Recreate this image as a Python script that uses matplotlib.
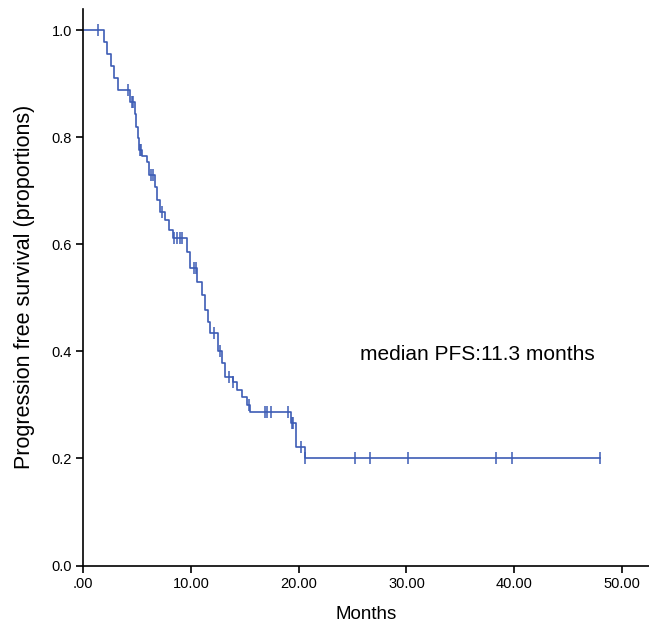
import matplotlib
matplotlib.use("Agg")
import matplotlib.pyplot as plt
import numpy as np

plt.rcParams['font.family'] = ['Liberation Sans', 'DejaVu Sans']

# Step (event) times in months and survival level after each step
event_times = [1.9, 2.2, 2.55, 2.9, 3.25, 4.35, 4.8, 4.95, 5.05, 5.15, 5.5, 5.9, 6.1,
               6.7, 6.9, 7.1, 7.6, 8.0, 8.3, 9.6, 9.9, 10.6, 11.0, 11.3, 11.6, 11.8,
               12.5, 12.9, 13.2, 13.9, 14.3, 14.7, 15.2, 15.5, 19.3, 19.75, 20.6]
surv_levels = [0.978, 0.956, 0.933, 0.911, 0.889, 0.866, 0.843, 0.820, 0.798, 0.776,
               0.765, 0.753, 0.730, 0.707, 0.683, 0.660, 0.645, 0.627, 0.612, 0.585,
               0.556, 0.530, 0.505, 0.478, 0.455, 0.435, 0.400, 0.378, 0.353, 0.343,
               0.328, 0.314, 0.300, 0.286, 0.267, 0.222, 0.200]
# Censored observations (months)
censor_times = [1.4, 4.2, 4.5, 4.65, 5.25, 5.4, 6.3, 6.45, 7.3, 8.45, 8.75, 8.95, 9.15,
                10.25, 10.45, 12.1, 12.7, 13.5, 13.95, 15.35, 16.9, 17.1, 17.4, 19.0,
                19.35, 19.5, 20.2, 20.6, 25.2, 26.6, 30.1, 38.3, 39.8, 48.0]

x_ticks = [0, 10, 20, 30, 40, 50]
x_ticklabels = ['.00', '10.00', '20.00', '30.00', '40.00', '50.00']
y_ticks = [0.0, 0.2, 0.4, 0.6, 0.8, 1.0]
y_ticklabels = ['0.0', '0.2', '0.4', '0.6', '0.8', '1.0']

color = '#3d5cb5'

fig = plt.figure(figsize=(6.49, 6.28), dpi=100)
ax = fig.add_axes([0.128, 0.0995, 0.872, 0.8865])

t = np.concatenate([[0.0], event_times, [max(censor_times)]])
s = np.concatenate([[1.0], surv_levels, [surv_levels[-1]]])
ax.step(t, s, where='post', color=color, lw=1.2)

ct = np.array(censor_times)
idx = np.searchsorted(np.array(event_times), ct, side='right')
levels = np.concatenate([[1.0], surv_levels])
cs = levels[idx]
ax.plot(ct, cs, linestyle='none', marker='|', markersize=9, mew=1.1, color=color)

ax.set_xlim(0, 52.5)
ax.set_ylim(0, 1.04)
ax.set_xticks(x_ticks)
ax.set_xticklabels(x_ticklabels)
ax.set_yticks(y_ticks)
ax.set_yticklabels(y_ticklabels)
for sp in ['top', 'right']:
    ax.spines[sp].set_visible(False)
for sp in ['left', 'bottom']:
    ax.spines[sp].set_linewidth(1.2)
ax.tick_params(direction='out', length=5, width=1.2, labelsize=10.5, pad=3)

ax.set_xlabel('Months', fontsize=13.5, labelpad=11)
ax.set_ylabel('Progression free survival (proportions)', fontsize=15.5, labelpad=12)

ax.text(25.7, 0.395, 'median PFS:11.3 months', fontsize=15, va='center', ha='left')

fig.savefig('out.png', dpi=100)
